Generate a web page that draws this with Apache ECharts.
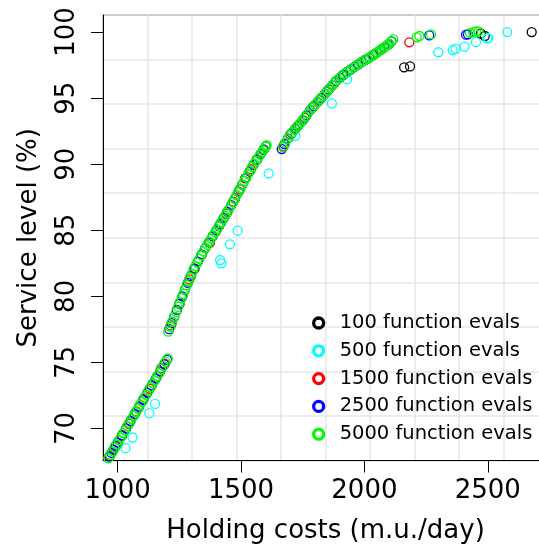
<!DOCTYPE html>
<html>
<head>
<meta charset="UTF-8">
<title>Service level vs holding costs</title>
<script src="https://cdn.jsdelivr.net/npm/echarts@6/dist/echarts.min.js"></script>
<style>
  html, body { margin: 0; padding: 0; background: #fff; }
  #main { width: 539px; height: 548px; }
</style>
</head>
<body>
<div id="main"></div>
<script>
// tick labels
var xTicks = [1000, 1500, 2000, 2500];
var yTicks = [70, 75, 80, 85, 90, 95, 100];

var seriesNames = ['100 function evals', '500 function evals', '1500 function evals',
                   '2500 function evals', '5000 function evals'];
var seriesColors = ['#000000', '#00ffff', '#ff0000', '#0000ff', '#00ff00'];

// [holding costs, service level]
var evals100 = [
    [2161, 97.33], [2185, 97.40], [2472, 99.88], [2488, 99.70], [2678, 100.0]
];

var evals500 = [
    [1032, 68.51], [1060, 69.32], [1128, 71.16], [1151, 71.86],
    [1415, 82.75], [1420, 82.50], [1455, 83.94], [1486, 84.97], [1612, 89.30],
    [1720, 92.15], [1868, 94.60], [1930, 96.43],
    [2300, 98.47], [2358, 98.64], [2370, 98.72], [2406, 98.90], [2452, 99.23],
    [2498, 99.50], [2502, 99.56], [2579, 100.0]
];

var evals1500 = [
    [968, 67.94], [990, 68.63], [1018, 69.50], [1045, 70.35], [1075, 71.29],
    [1105, 72.23], [1130, 73.01], [1160, 73.95], [1177, 74.56], [1190, 74.90],
    [1215, 77.80], [1250, 79.43], [1290, 81.28], [1313, 82.10], [1340, 83.15],
    [1374, 84.05], [1410, 85.30], [1440, 86.24], [1469, 87.17], [1495, 88.10],
    [1516, 88.93], [1540, 89.62], [1563, 90.32], [1590, 91.06],
    [1672, 91.35], [1700, 92.24], [1730, 92.90], [1758, 93.50], [1790, 94.30],
    [1818, 94.86], [1848, 95.50], [1880, 96.18], [1912, 96.73], [1945, 97.17],
    [1975, 97.56], [2005, 97.91], [2040, 98.32], [2070, 98.71], [2100, 99.10],
    [2182, 99.22]
];

var evals2500 = [
    [966, 67.88], [975, 68.15], [983, 68.41], [992, 68.70], [1000, 68.94],
    [1017, 69.47], [1034, 70.01], [1052, 70.57], [1069, 71.10], [1086, 71.63],
    [1103, 72.17], [1120, 72.70], [1138, 73.26], [1155, 73.80], [1172, 74.33],
    [1189, 74.86], [1200, 75.20],
    [1209, 77.52], [1219, 77.98], [1229, 78.45], [1240, 78.97], [1251, 79.48],
    [1262, 80.00], [1273, 80.52], [1284, 81.02], [1296, 81.53], [1310, 82.10],
    [1325, 82.63], [1340, 83.15], [1355, 83.65], [1370, 84.10], [1385, 84.55],
    [1400, 85.00], [1415, 85.46], [1430, 85.93], [1445, 86.40], [1460, 86.91],
    [1475, 87.41], [1490, 87.93], [1505, 88.46], [1520, 88.96], [1535, 89.46],
    [1550, 89.95], [1565, 90.36], [1580, 90.78], [1592, 91.12], [1600, 91.34],
    [1665, 91.15], [1676, 91.52], [1690, 91.95], [1705, 92.36], [1720, 92.69],
    [1735, 93.00], [1750, 93.31], [1765, 93.70], [1780, 94.10], [1795, 94.40],
    [1810, 94.70], [1825, 95.01], [1840, 95.33], [1855, 95.66], [1870, 95.97],
    [1885, 96.29], [1900, 96.54], [1915, 96.77], [1930, 96.98], [1945, 97.17],
    [1960, 97.36], [1975, 97.56], [1990, 97.75], [2005, 97.91], [2020, 98.07],
    [2035, 98.26], [2050, 98.45], [2065, 98.64], [2080, 98.84], [2095, 99.04],
    [2110, 99.30],
    [2263, 99.75], [2412, 99.80], [2420, 99.82]
];

var evals5000 = [
    [962, 67.75], [970, 68.02], [979, 68.27], [987, 68.55], [996, 68.80],
    [1005, 69.12], [1013, 69.33], [1022, 69.65], [1030, 69.86], [1039, 70.18],
    [1048, 70.42], [1056, 70.72], [1065, 70.96], [1073, 71.25], [1082, 71.49],
    [1091, 71.80], [1099, 72.02], [1108, 72.34], [1116, 72.55], [1125, 72.88],
    [1134, 73.12], [1142, 73.41], [1151, 73.65], [1159, 73.94], [1168, 74.18],
    [1177, 74.50], [1185, 74.72], [1194, 75.04], [1203, 75.30],
    [1205, 77.33], [1213, 77.70], [1221, 78.08], [1229, 78.45], [1237, 78.83],
    [1245, 79.20], [1252, 79.53], [1259, 79.86], [1266, 80.19], [1273, 80.52],
    [1280, 80.85], [1287, 81.15], [1294, 81.45], [1300, 81.70], [1307, 82.00],
    [1315, 82.28], [1323, 82.56], [1331, 82.84], [1339, 83.12], [1347, 83.40],
    [1355, 83.65], [1363, 83.89], [1371, 84.13], [1379, 84.37], [1387, 84.61],
    [1395, 84.85], [1403, 85.09], [1411, 85.34], [1419, 85.59], [1427, 85.84],
    [1435, 86.08], [1442, 86.30], [1450, 86.57], [1458, 86.84], [1466, 87.11],
    [1474, 87.38], [1482, 87.65], [1489, 87.89], [1497, 88.17], [1505, 88.46],
    [1513, 88.73], [1521, 88.99], [1529, 89.26], [1537, 89.52], [1545, 89.79],
    [1553, 90.03], [1561, 90.25], [1569, 90.48], [1577, 90.70], [1585, 90.92],
    [1593, 91.14], [1600, 91.34], [1604, 91.45],
    [1669, 91.30], [1679, 91.61], [1689, 91.92], [1698, 92.20], [1707, 92.40],
    [1716, 92.60], [1725, 92.80], [1734, 92.98], [1743, 93.17], [1752, 93.35],
    [1761, 93.59], [1770, 93.83], [1780, 94.10], [1790, 94.30], [1800, 94.50],
    [1810, 94.70], [1820, 94.90], [1830, 95.12], [1840, 95.33], [1850, 95.55],
    [1860, 95.76], [1870, 95.97], [1879, 96.16], [1888, 96.35], [1898, 96.51],
    [1909, 96.68], [1920, 96.85], [1931, 96.99], [1943, 97.15], [1955, 97.30],
    [1967, 97.45], [1978, 97.60], [1990, 97.75], [2001, 97.87], [2012, 97.98],
    [2023, 98.10], [2032, 98.22], [2041, 98.33], [2050, 98.45], [2059, 98.57],
    [2068, 98.68], [2077, 98.80], [2086, 98.92], [2093, 99.01], [2100, 99.10],
    [2109, 99.28], [2117, 99.45],
    [2212, 99.60], [2223, 99.70], [2270, 99.83],
    [2428, 99.92], [2441, 100.0], [2452, 100.05], [2462, 100.05]
];

var allData = [evals100, evals500, evals1500, evals2500, evals5000];

var FONT = 'DejaVu Sans';
var chart = echarts.init(document.getElementById('main'));

var series = allData.map(function (d, i) {
    return {
        name: seriesNames[i],
        type: 'scatter',
        xAxisIndex: 0,
        yAxisIndex: 0,
        symbol: 'circle',
        symbolSize: 9,
        data: d,
        itemStyle: {
            color: 'rgba(0,0,0,0)',
            borderColor: seriesColors[i],
            borderWidth: 1.3,
            opacity: 1
        },
        emphasis: { disabled: true }
    };
});

var plain = function (v) { return String(v); };

var option = {
    animation: false,
    backgroundColor: '#ffffff',
    color: seriesColors,
    grid: {
        left: 103, top: 15, width: 445, height: 445.5,
        outerBoundsMode: 'none',
        containLabel: false,
        show: true, borderColor: '#000', borderWidth: 1,
        backgroundColor: 'rgba(0,0,0,0)'
    },
    legend: {
        orient: 'vertical',
        left: 312, top: 313,
        icon: 'circle',
        itemWidth: 32, itemHeight: 10, itemGap: 7.8,
        itemStyle: { borderWidth: 3.3, color: 'rgba(0,0,0,0)' },
        textStyle: { fontFamily: FONT, fontSize: 19.5, color: '#000', lineHeight: 20 },
        padding: 0,
        data: seriesNames.map(function (n, i) {
            return { name: n, itemStyle: { borderColor: seriesColors[i] } };
        })
    },
    xAxis: [{
        type: 'value',
        min: 940.4, max: 2744.2,
        name: 'Holding costs (m.u./day)',
        nameLocation: 'middle', nameGap: 58,
        nameTextStyle: { fontFamily: FONT, fontSize: 26, color: '#000' },
        axisLine: { lineStyle: { color: '#000', width: 1 } },
        axisTick: { show: true, length: 12, customValues: xTicks, lineStyle: { color: '#000', width: 1 } },
        axisLabel: { customValues: xTicks, formatter: plain, margin: 18, fontFamily: FONT, fontSize: 26, color: '#000' },
        splitLine: { show: false }
    }, {
        // hidden axis for the 10 x 10 background grid
        type: 'value', min: 0, max: 10, interval: 1, position: 'top',
        axisLine: { show: false }, axisTick: { show: false }, axisLabel: { show: false },
        splitLine: { show: true, lineStyle: { color: '#e6e6e6', width: 1.5 } }
    }],
    yAxis: [{
        type: 'value',
        min: 67.58, max: 101.29,
        name: 'Service level (%)',
        nameLocation: 'middle', nameGap: 61, nameRotate: 90,
        nameTextStyle: { fontFamily: FONT, fontSize: 26, color: '#000' },
        axisLine: { lineStyle: { color: '#000', width: 1 } },
        axisTick: { show: true, length: 12, customValues: yTicks, lineStyle: { color: '#000', width: 1 } },
        axisLabel: { customValues: yTicks, formatter: plain, rotate: 90, margin: 23, fontFamily: FONT, fontSize: 26, color: '#000' },
        splitLine: { show: false }
    }, {
        type: 'value', min: 0, max: 10, interval: 1, position: 'right',
        axisLine: { show: false }, axisTick: { show: false }, axisLabel: { show: false },
        splitLine: { show: true, lineStyle: { color: '#e6e6e6', width: 1.5 } }
    }],
    series: series
};

chart.setOption(option);
</script>
</body>
</html>
